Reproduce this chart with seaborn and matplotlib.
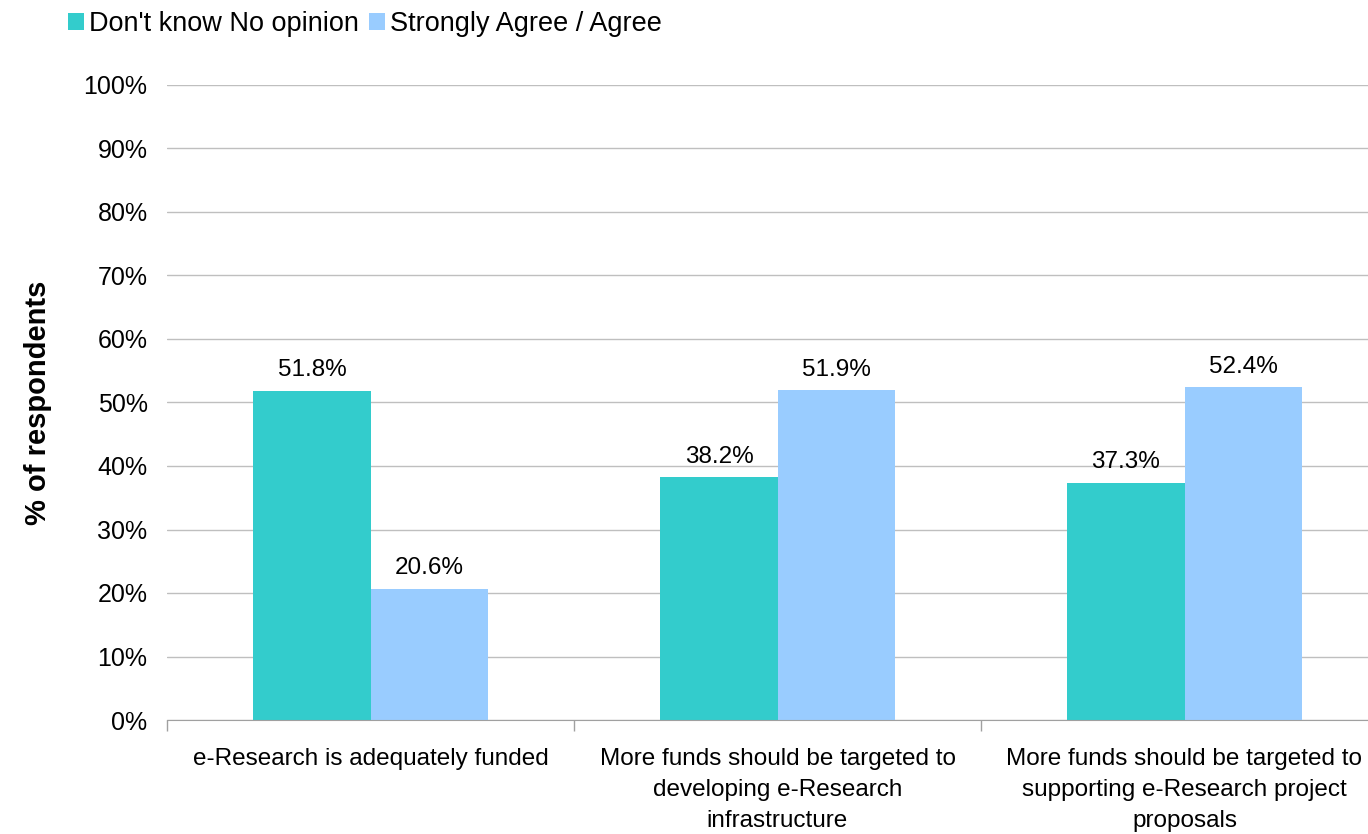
import matplotlib.pyplot as plt
import seaborn as sns
import pandas as pd

categories = [
    "e-Research is adequately funded",
    "More funds should be targeted to\ndeveloping e-Research\ninfrastructure",
    "More funds should be targeted to\nsupporting e-Research project\nproposals",
]
series = ["Don't know No opinion", "Strongly Agree / Agree"]
dont_know = [51.8, 38.2, 37.3]
agree = [20.6, 51.9, 52.4]
colors = ["#33CCCC", "#99CCFF"]

df = pd.DataFrame({
    "category": categories * 2,
    "series": [series[0]] * 3 + [series[1]] * 3,
    "value": dont_know + agree,
})

sns.set_style("white")
plt.rcParams["font.family"] = ["Liberation Sans", "DejaVu Sans"]
plt.rcParams["text.color"] = "black"
plt.rcParams["xtick.color"] = "black"
plt.rcParams["ytick.color"] = "black"
plt.rcParams["axes.labelcolor"] = "black"

fig = plt.figure(figsize=(13.68, 8.34), dpi=100)
ax = fig.add_axes([167 / 1368, 1 - 720 / 834, 1221 / 1368, 635 / 834])

sns.barplot(data=df, x="category", y="value", hue="series", palette=colors,
            width=0.575, gap=0, saturation=1, linewidth=0, ax=ax, legend=True)

for cont in ax.containers:
    ax.bar_label(cont, fmt="%.1f%%", padding=7, fontsize=17.5)

ax.set_ylim(0, 100)
ax.set_xlim(-0.5, 2.5)
ax.set_yticks(range(0, 101, 10))
ax.set_yticklabels([f"{v}%" for v in range(0, 101, 10)], fontsize=18)
ax.yaxis.grid(True, color="#BFBFBF", linewidth=1)
ax.set_axisbelow(True)
ax.tick_params(axis="y", length=0, pad=14)
ax.tick_params(axis="x", which="major", length=0, pad=20, labelsize=17.5)
ax.set_xticks([-0.5, 0.5, 1.5, 2.5], minor=True)
ax.tick_params(axis="x", which="minor", length=8, color="#A0A0A0", width=1, bottom=True)
for lbl in ax.get_xticklabels():
    lbl.set_linespacing(1.55)

for s in ["top", "right", "left"]:
    ax.spines[s].set_visible(False)
ax.spines["bottom"].set_color("#A0A0A0")

ax.set_xlabel("")
ax.set_ylabel("% of respondents", fontsize=21, fontweight="bold")
ax.yaxis.set_label_coords(-0.094, 0.5)

handles, labels = ax.get_legend_handles_labels()
ax.get_legend().remove()
fig.legend(handles, labels, loc="upper left", bbox_to_anchor=(0.037, 1.008), ncol=2,
           frameon=False, fontsize=19.5, handlelength=0.6, handleheight=0.6,
           handletextpad=0.15, columnspacing=0.4, borderaxespad=0.25)

plt.savefig("out.png", dpi=100)
plt.close()
